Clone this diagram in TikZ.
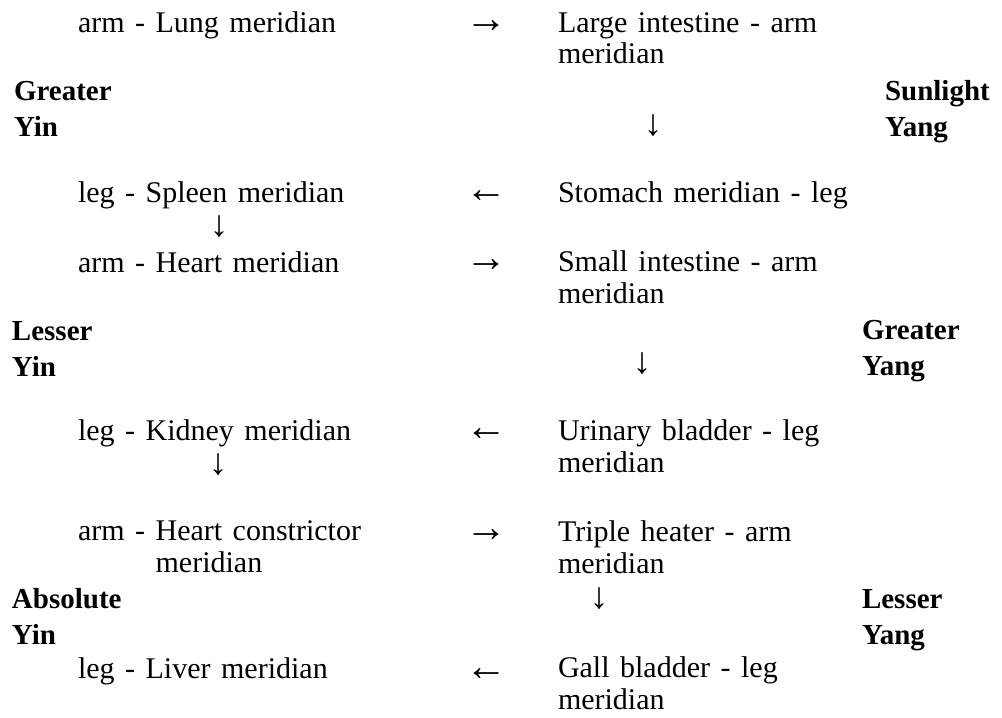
\documentclass[tikz,border=0pt]{standalone}
\usepackage{fontspec}
\setmainfont{Liberation Serif}[WordSpace=1.4]
\begin{document}
\begin{tikzpicture}[x=1pt,y=-1pt,
  every node/.style={inner sep=0pt,outer sep=0pt},
  mer/.style={anchor=base west,align=left,font=\fontsize{30}{31.5}\selectfont},
  lvl/.style={anchor=base west,align=left,font=\fontsize{29}{35.5}\selectfont\bfseries},
  harr/.style={anchor=center,font=\fontsize{42}{42}\selectfont},
  varr/.style={anchor=center,font=\fontsize{37}{37}\selectfont}]
\useasboundingbox (0,0) rectangle (1002,718);
% left column (multi-line nodes are placed by the baseline of their last line)
\node[mer] (lung)   at (78,32)  {arm - Lung meridian};
\node[mer] (spleen) at (78,202) {leg - Spleen meridian};
\node[mer] (heart)  at (78,272) {arm - Heart meridian};
\node[mer] (kidney) at (78,440) {leg - Kidney meridian};
\node[mer] (hc)     at (78,572) {arm - Heart constrictor\\\hphantom{arm - }meridian};
\node[mer] (liver)  at (78,678) {leg - Liver meridian};
% right column
\node[mer] (li) at (558,63.5)  {Large intestine - arm\\meridian};
\node[mer] (st) at (558,202)   {Stomach meridian - leg};
\node[mer] (si) at (558,303)   {Small intestine - arm\\meridian};
\node[mer] (ub) at (558,472)   {Urinary bladder - leg\\meridian};
\node[mer] (th) at (558,573)   {Triple heater - arm\\meridian};
\node[mer] (gb) at (558,709)   {Gall bladder - leg\\meridian};
% level labels
\node[lvl] (gyin)  at (14,136)  {Greater\\Yin};
\node[lvl] (lyin)  at (12,376)  {Lesser\\Yin};
\node[lvl] (ayin)  at (12,644)  {Absolute\\Yin};
\node[lvl] (syang) at (885,136) {Sunlight\\Yang};
\node[lvl] (gyang) at (862,375) {Greater\\Yang};
\node[lvl] (lyang) at (862,644) {Lesser\\Yang};
% arrows
\node[harr] (a1)  at (486,27)  {→};
\node[varr] (a2)  at (653,126) {↓};
\node[harr] (a3)  at (486,197) {←};
\node[varr] (a4)  at (219,227) {↓};
\node[harr] (a5)  at (486,266) {→};
\node[varr] (a6)  at (642,364) {↓};
\node[harr] (a7)  at (486,435) {←};
\node[varr] (a8)  at (218,465) {↓};
\node[harr] (a9)  at (486,536) {→};
\node[varr] (a10) at (599,599) {↓};
\node[harr] (a11) at (486,675) {←};
\end{tikzpicture}
\end{document}
